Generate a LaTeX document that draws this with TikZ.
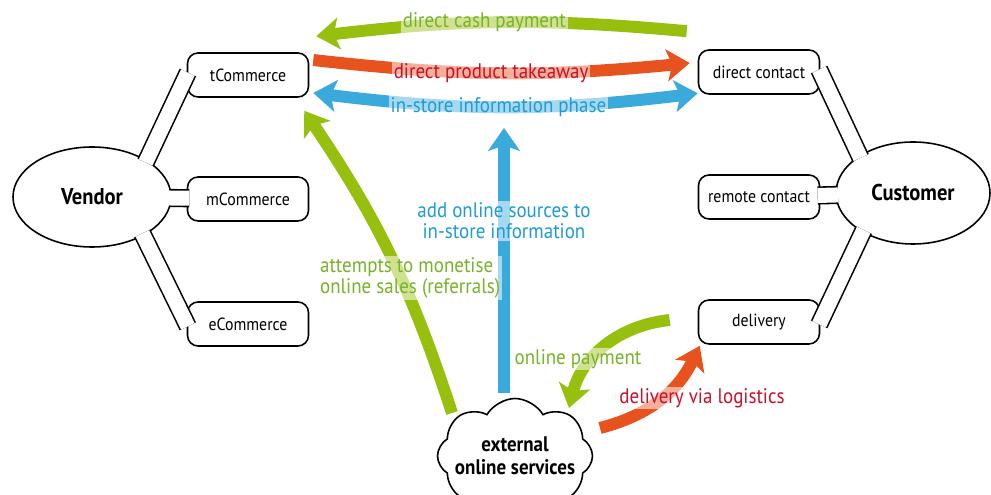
\documentclass[tikz,border=0pt]{standalone}
\usepackage{fontspec}
\setmainfont[FakeStretch=0.9]{PT Sans}
\usetikzlibrary{positioning}
\usetikzlibrary{shapes.symbols,shapes.geometric}
\usetikzlibrary{arrows.meta}

\definecolor{arrgreen}{RGB}{151,191,13}
\definecolor{arrred}{RGB}{232,82,30}
\definecolor{arrblue}{RGB}{58,170,220}
\definecolor{txtgreen}{RGB}{120,178,40}
\definecolor{txtred}{RGB}{200,16,46}
\definecolor{txtblue}{RGB}{30,155,215}

\tikzset{
  party/.style={ellipse, draw, line width=0.9pt, minimum width=3.16cm, minimum height=2cm, font=\bfseries\fontsize{13}{15}\selectfont},
  channel/.style={draw, rounded corners=6pt, line width=0.9pt, minimum width=2.42cm, minimum height=0.88cm, font=\fontsize{10}{12}\selectfont},
  band/.style={double=white, double distance=0.3cm, line width=0.9pt, shorten <=-1.5pt, shorten >=-1.5pt},
  fat/.style={line width=6.8pt, -{Stealth[length=13pt,width=18pt,inset=3pt]}},
  fatboth/.style={line width=6.8pt, {Stealth[length=13pt,width=18pt,inset=3pt]}-{Stealth[length=13pt,width=18pt,inset=3pt]}},
  lbl/.style={fill=white, fill opacity=0.55, text opacity=1, inner sep=1pt, font=\fontsize{12}{12}\selectfont},
}

\begin{document}
\begin{tikzpicture}
\useasboundingbox (0,0) rectangle (19.82,9.9);

% vendor side
\node[party] (vendor) at (1.84,5.96) {Vendor};
\node[channel] (tc) at (4.96,8.4) {tCommerce};
\node[channel] (mc) at (4.96,5.92) {mCommerce};
\node[channel] (ec) at (4.96,3.42) {eCommerce};

% customer side
\node[party, minimum width=3.08cm, minimum height=2.04cm] (customer) at (18.26,6.04) {Customer};
\node[channel] (dc) at (15.18,8.46) {direct contact};
\node[channel] (rc) at (15.18,5.96) {remote contact};
\node[channel] (dl) at (15.18,3.46) {delivery};

\node[cloud, draw, line width=0.9pt, cloud puffs=8, cloud puff arc=120, aspect=1.4,
  inner xsep=-14pt, inner ysep=-4pt,
  minimum width=3.1cm, minimum height=2.3cm, align=center,
  font=\bfseries\fontsize{12}{13}\selectfont] (cloud) at (10.3,0.78) {external\\online services};

\draw[band] (vendor.34) -- (tc.west);
\draw[band] (vendor) -- (mc);
\draw[band] (vendor.323) -- (ec.west);
\draw[band] (customer.145) -- (dc.east);
\draw[band] (customer) -- (rc);
\draw[band] (customer.218) -- (dl.east);

% store arrows
\draw[fat, arrgreen] ([shift={(-0.22,0.36)}]dc.north west) to[bend right=6]
  node[lbl, text=txtgreen, pos=0.55] (cashlbl) {direct cash payment} ([shift={(0.14,0.32)}]tc.north east);
\draw[fat, arrred] ([shift={(0.08,0.3)}]tc.east) to[bend right=6]
  node[lbl, text=txtred, pos=0.47] (takelbl) {direct product takeaway} ([shift={(-0.16,0.18)}]dc.west);
\draw[fatboth, arrblue] ([shift={(0.08,-0.36)}]tc.east) to[bend right=7]
  node[lbl, text=txtblue, pos=0.48] (infolbl) {in-store information phase} ([shift={(0,0.03)}]dc.south west);

% online arrows
\coordinate (infotop) at (10.08,7.34);
\draw[fat, arrblue] ([shift={(-0.22,1.26)}]cloud.center) --
  node[lbl, text=txtblue, align=center, pos=0.65] (addlbl) {add online sources to\\in-store information} (infotop);
\draw[fat, arrgreen] ([shift={(-1.26,0.86)}]cloud.center) to[bend right=8] ([shift={(-0.1,-0.26)}]tc.south east);
\draw[fat, arrgreen] ([shift={(-0.56,0.04)}]dl.west) to[bend right=35] ([shift={(1.08,0.96)}]cloud.center);
\draw[fat, arrred] ([shift={(1.7,0.56)}]cloud.center) to[bend right=25] ([shift={(0.04,-0.02)}]dl.south west);

\node[lbl, text=txtgreen, anchor=west, align=left] (monlbl) at (6.36,4.34) {attempts to monetise\\online sales (referrals)};
\node[lbl, text=txtgreen] (paylbl) at (11.56,2.72) {online payment};
\node[lbl, text=txtred] (logilbl) at (14.04,1.94) {delivery via logistics};

\end{tikzpicture}
\end{document}
